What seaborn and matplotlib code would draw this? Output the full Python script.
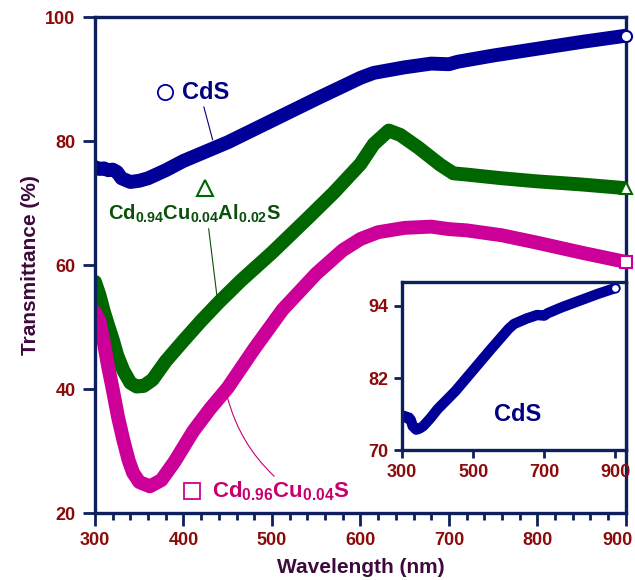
import pandas as pd
import matplotlib
matplotlib.use("Agg")
import matplotlib.pyplot as plt
import matplotlib.transforms as mtransforms
from matplotlib.ticker import MultipleLocator
import seaborn as sns

# transmittance spectra
cds_wl = [300, 305, 310, 315, 320, 325, 330, 340, 350, 360, 380, 400, 450, 500,
          550, 600, 615, 650, 680, 700, 710, 750, 800, 850, 900]
cds_t = [75.8, 75.5, 75.6, 75.3, 75.4, 75.0, 74.0, 73.4, 73.6, 74.0, 75.3, 76.8,
         79.8, 83.3, 86.8, 90.2, 91.0, 91.9, 92.5, 92.4, 92.8, 93.8, 94.9, 96.0, 97.0]

al_wl = [300, 305, 310, 315, 320, 325, 332, 340, 347, 355, 365, 380, 400, 420,
         440, 465, 500, 540, 570, 600, 615, 632, 645, 665, 690, 705, 720, 760,
         800, 850, 900]
al_t = [57.3, 55.2, 52.5, 50.2, 48.0, 45.5, 43.0, 41.0, 40.4, 40.5, 41.5, 44.5,
        47.8, 51.0, 54.0, 57.5, 62.0, 67.5, 71.7, 76.3, 79.5, 81.7, 81.0, 79.0,
        76.2, 74.8, 74.6, 74.0, 73.5, 73.0, 72.4]

cu_wl = [300, 305, 310, 315, 320, 326, 332, 338, 343, 350, 362, 375, 390, 411,
         430, 450, 480, 512, 550, 580, 600, 620, 650, 680, 700, 720, 760, 800,
         850, 900]
cu_t = [52.4, 51.0, 47.5, 43.5, 40.0, 35.5, 31.8, 28.5, 26.5, 25.0, 24.3, 25.3,
        28.3, 33.2, 36.8, 40.2, 46.5, 52.8, 58.6, 62.4, 64.2, 65.3, 66.0, 66.2,
        65.8, 65.6, 64.8, 63.6, 62.0, 60.5]

names = ["CdS", "CdCuAlS", "CdCuS"]
colors = {"CdS": "#000099", "CdCuAlS": "#006600", "CdCuS": "#CC0099"}
end_markers = {"CdS": "o", "CdCuAlS": "^", "CdCuS": "s"}

df = pd.concat([
    pd.DataFrame({"sample": "CdS", "wl": cds_wl, "T": cds_t}),
    pd.DataFrame({"sample": "CdCuAlS", "wl": al_wl, "T": al_t}),
    pd.DataFrame({"sample": "CdCuS", "wl": cu_wl, "T": cu_t}),
])

sns.set_style("ticks")
plt.rcParams["font.family"] = ["Liberation Sans", "DejaVu Sans"]
plt.rcParams["font.weight"] = "bold"
plt.rcParams["mathtext.default"] = "regular"

navy = "#0D1F5C"
tickred = "#8B0A0A"
labpurple = "#3E0A3E"

fig = plt.figure(figsize=(6.35, 5.8), dpi=100)
ax = fig.add_axes([0.1496, 0.1155, 0.836, 0.855])

sns.lineplot(data=df, x="wl", y="T", hue="sample", palette=colors, sort=False,
             estimator=None, linewidth=10, legend=False, ax=ax,
             solid_capstyle="round", solid_joinstyle="round")
for n in names:
    sub = df[df["sample"] == n]
    ax.plot(sub["wl"].iloc[-1], sub["T"].iloc[-1], marker=end_markers[n],
            ms=8, mfc="white", mec=colors[n], mew=1.5, clip_on=False, zorder=5)

ax.set_xlim(300, 900)
ax.set_ylim(20, 100)
ax.set_xticks([300, 400, 500, 600, 700, 800, 900])
ax.xaxis.set_minor_locator(MultipleLocator(20))
ax.set_yticks([20, 40, 60, 80, 100])
for s in ax.spines.values():
    s.set_color(navy)
    s.set_linewidth(2.4)
ax.tick_params(which="major", direction="out", length=9, width=2, color=navy,
               labelcolor=tickred, labelsize=13, pad=5)
ax.tick_params(axis="x", which="minor", direction="out", length=5, width=2, color=navy)
ax.set_xlabel("Wavelength (nm)", fontsize=15, fontweight="bold", color=labpurple, labelpad=6)
ax.set_ylabel("Transmittance (%)", fontsize=15, fontweight="bold", color=labpurple, labelpad=4)

# labels with symbols and pointer lines
ax.plot(379, 87.9, marker="o", ms=11, mfc="none", mec="#000099", mew=1.3)
ax.annotate("CdS", xy=(433, 80.2), xytext=(398, 87.9), fontsize=17,
            fontweight="bold", color="#000080", va="center",
            arrowprops=dict(arrowstyle="-", color="#000080", lw=0.8,
                            shrinkA=0, shrinkB=0, relpos=(0.45, 0)))
ax.plot(424.3, 72.4, marker="^", ms=12, mfc="none", mec="#006600", mew=1.5)
ax.annotate(r"Cd$_{0.94}$Cu$_{0.04}$Al$_{0.02}$S", xy=(438, 54.8), xytext=(314.7, 68.2),
            fontsize=14.5, fontweight="bold", color="#0B4F0B", va="center",
            arrowprops=dict(arrowstyle="-", color="#0B4F0B", lw=0.8,
                            shrinkA=0, shrinkB=0, relpos=(0.58, 0)))
ax.plot(409.6, 23.5, marker="s", ms=11, mfc="none", mec="#CC0099", mew=1.3, clip_on=False)
ax.annotate(r"Cd$_{0.96}$Cu$_{0.04}$S", xy=(450, 38.5), xytext=(432, 23.5),
            fontsize=16, fontweight="bold", color="#C8006E", va="center",
            arrowprops=dict(arrowstyle="-", color="#C8006E", lw=0.8,
                            shrinkA=0, shrinkB=0, relpos=(0.48, 1),
                            connectionstyle="arc3,rad=-0.15"))

# inset: CdS alone
ins = fig.add_axes([0.633, 0.2241, 0.3528, 0.2897])
sub = df[df["sample"] == "CdS"]
sns.lineplot(data=sub, x="wl", y="T", color="#000099", sort=False, estimator=None,
             linewidth=7.5, ax=ins, solid_capstyle="round")
ins.plot(cds_wl[-1], cds_t[-1], marker="o", ms=6, mfc="white", mec="#000099",
         mew=1.2, zorder=5)
ins.set_xlim(300, 930)
ins.set_ylim(70, 98)
ins.set_xticks([300, 500, 700, 900])
ins.set_yticks([70, 82, 94])
for s in ins.spines.values():
    s.set_color(navy)
    s.set_linewidth(2.4)
ins.tick_params(direction="out", length=6, width=2, color=navy, labelcolor=tickred,
                labelsize=13, pad=4)
ins.set_xlabel("")
ins.set_ylabel("")
ins.text(624, 76, "CdS", fontsize=17, fontweight="bold", color="#000080",
         ha="center", va="center")

# nudge the "900" label of the main axes so it stays inside the figure
fig.canvas.draw()
shift = mtransforms.ScaledTranslation(-8 / 100, 0, fig.dpi_scale_trans)
for lab in ax.xaxis.get_majorticklabels():
    if lab.get_text() == "900":
        lab.set_transform(lab.get_transform() + shift)

fig.savefig("out.png", dpi=100)
